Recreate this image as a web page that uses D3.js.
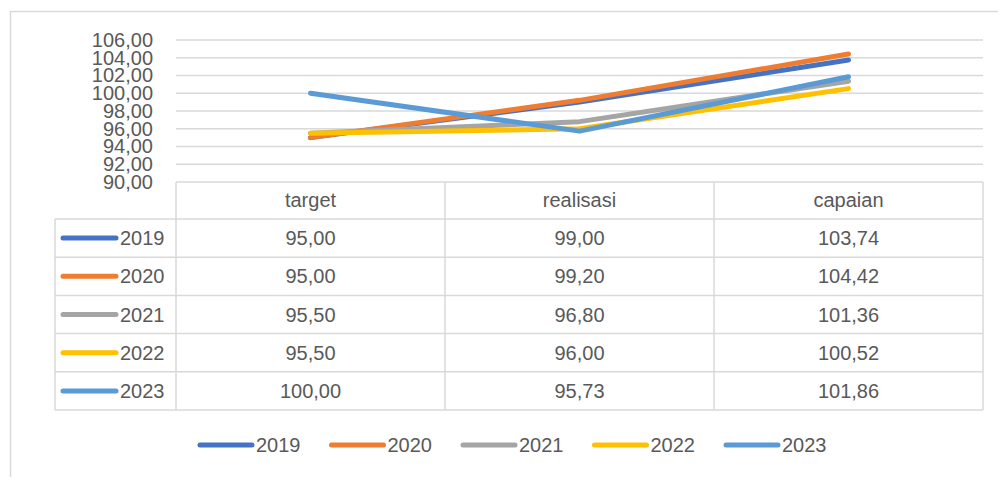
<!DOCTYPE html>
<html>
<head>
<meta charset="utf-8">
<script src="https://cdn.jsdelivr.net/npm/d3@7"></script>
<style>
  body { margin: 0; background: #fff; }
  text { font-family: "Liberation Sans", Arial, sans-serif; fill: #595959; }
</style>
</head>
<body>
<svg id="chart" width="998" height="477"></svg>
<script>
// data
const categories = ['target', 'realisasi', 'capaian'];
const years = ['2019', '2020', '2021', '2022', '2023'];
const v2019 = [95.00, 99.00, 103.74];
const v2020 = [95.00, 99.20, 104.42];
const v2021 = [95.50, 96.80, 101.36];
const v2022 = [95.50, 96.00, 100.52];
const v2023 = [100.00, 95.73, 101.86];
const yTicks = [90, 92, 94, 96, 98, 100, 102, 104, 106];

const seriesValues = [v2019, v2020, v2021, v2022, v2023];
const colors = ['#4472C4', '#ED7D31', '#A5A5A5', '#FFC000', '#5B9BD5'];
const fmt = v => v.toFixed(2).replace('.', ',');

const svg = d3.select('#chart');
const grid = '#d9d9d9';

// outer frame
svg.append('rect')
    .attr('x', 10.5).attr('y', 11.5)
    .attr('width', 1000).attr('height', 500)
    .attr('fill', 'none').attr('stroke', grid).attr('stroke-width', 1.5);

const left = 176, right = 983;
const x = d3.scaleBand().domain(categories).range([left, right]);
const y = d3.scaleLinear().domain([90, 106]).range([182, 40]);

// gridlines
svg.append('g').selectAll('line')
    .data(yTicks.slice(1))
    .join('line')
    .attr('x1', left).attr('x2', right)
    .attr('y1', d => y(d)).attr('y2', d => y(d))
    .attr('stroke', grid).attr('stroke-width', 1.5);

// y axis labels (they overlap in the original too)
const yAxis = d3.axisLeft(y).tickValues(yTicks).tickFormat(fmt).tickSize(0).tickPadding(0);
const ya = svg.append('g').attr('transform', 'translate(153,0)').call(yAxis);
ya.select('.domain').remove();
ya.selectAll('text')
    .style('font-size', '20px')
    .style('font-family', '"Liberation Sans", Arial, sans-serif')
    .attr('fill', '#595959');

// lines
const line = d3.line()
    .x((d, i) => x(categories[i]) + x.bandwidth() / 2)
    .y(d => y(d));

svg.append('g').selectAll('path')
    .data(seriesValues)
    .join('path')
    .attr('d', line)
    .attr('fill', 'none')
    .attr('stroke', (d, i) => colors[i])
    .attr('stroke-width', 5)
    .attr('stroke-linecap', 'round')
    .attr('stroke-linejoin', 'round');

// data table
const rowTop = 219, rowH = 38.2, keyLeft = 55;
const rowY = d3.scaleLinear().domain([0, years.length]).range([rowTop, rowTop + rowH * years.length]);
const tbl = svg.append('g').attr('stroke', grid).attr('stroke-width', 1.5);

tbl.append('line').attr('x1', left).attr('x2', right).attr('y1', 182).attr('y2', 182);
d3.range(years.length + 1).forEach(i => {
    tbl.append('line').attr('x1', keyLeft).attr('x2', right)
        .attr('y1', rowY(i)).attr('y2', rowY(i));
});
tbl.append('line').attr('x1', keyLeft).attr('x2', keyLeft)
    .attr('y1', rowTop).attr('y2', rowY(years.length));
[left].concat(categories.map(c => x(c) + x.bandwidth())).forEach(xx => {
    tbl.append('line').attr('x1', xx).attr('x2', xx)
        .attr('y1', 182).attr('y2', rowY(years.length));
});

// header
svg.append('g').selectAll('text')
    .data(categories)
    .join('text')
    .attr('x', d => x(d) + x.bandwidth() / 2)
    .attr('y', 207)
    .attr('text-anchor', 'middle')
    .style('font-size', '20px')
    .text(d => d);

// rows
years.forEach((yr, i) => {
    const cy = rowY(i) + rowH / 2;
    svg.append('line')
        .attr('x1', 63).attr('x2', 116)
        .attr('y1', cy).attr('y2', cy)
        .attr('stroke', colors[i]).attr('stroke-width', 5)
        .attr('stroke-linecap', 'round');
    svg.append('text')
        .attr('x', 120).attr('y', cy + 7)
        .style('font-size', '20px')
        .text(yr);
    svg.append('g').selectAll('text')
        .data(seriesValues[i])
        .join('text')
        .attr('x', (d, j) => x(categories[j]) + x.bandwidth() / 2)
        .attr('y', cy + 7)
        .attr('text-anchor', 'middle')
        .style('font-size', '20px')
        .text(d => fmt(d));
});

// legend
const legendX = d3.scaleLinear().domain([0, 1]).range([198, 329.5]);
const lg = svg.append('g').selectAll('g')
    .data(years)
    .join('g')
    .attr('transform', (d, i) => `translate(${legendX(i)},445)`);
lg.append('line')
    .attr('x1', 2).attr('x2', 54)
    .attr('stroke', (d, i) => colors[i]).attr('stroke-width', 5)
    .attr('stroke-linecap', 'round');
lg.append('text')
    .attr('x', 58).attr('y', 7)
    .style('font-size', '20px')
    .text(d => d);
</script>
</body>
</html>
